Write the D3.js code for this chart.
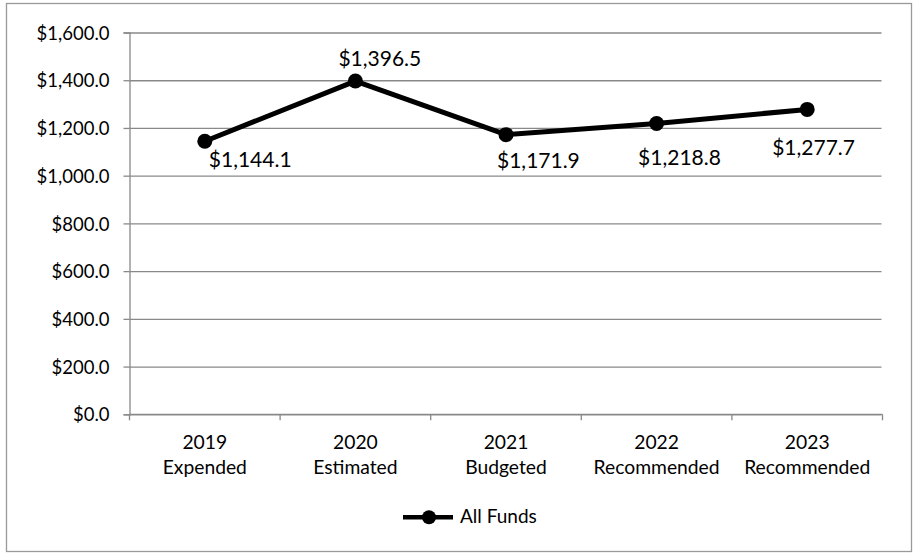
<!DOCTYPE html>
<html>
<head>
<meta charset="utf-8">
<script src="https://cdn.jsdelivr.net/npm/d3@7"></script>
<style>
  body { margin: 0; background: #fff; }
  text { font-family: Lato, "Open Sans", sans-serif; fill: #000; }
</style>
</head>
<body>
<svg id="chart" width="919" height="553"></svg>
<script>
// chart data
const years = ['2019', '2020', '2021', '2022', '2023'];
const stages = ['Expended', 'Estimated', 'Budgeted', 'Recommended', 'Recommended'];
const allFunds = [1144.1, 1396.5, 1171.9, 1218.8, 1277.7];
const yTicks = [0, 200, 400, 600, 800, 1000, 1200, 1400, 1600];
const seriesName = 'All Funds';

// label placement (as the labels sit in the original, relative to each point)
const labelDx = [4, -17, -9, -18.5, -35];
const labelDy = [26, -15.5, 33, 41.5, 45.5];

const svg = d3.select('#chart');
const plotLeft = 129.5;
const plotRight = 882.5;
const plotTop = 32.5;
const plotBottom = 414.3;
const grey = '#898989';

// outer frame
svg.append('rect')
  .attr('x', 6.5).attr('y', 3.5)
  .attr('width', 905).attr('height', 548)
  .attr('fill', '#fff')
  .attr('stroke', '#999')
  .attr('stroke-width', 1.3);

const x = d3.scaleBand()
  .domain(years)
  .range([plotLeft, plotRight])
  .padding(0);

const y = d3.scaleLinear()
  .domain([0, 1600])
  .range([plotBottom, plotTop]);

// gridlines + y axis
const yAxis = svg.append('g')
  .attr('transform', `translate(${plotLeft},0)`)
  .call(d3.axisLeft(y)
    .tickValues(yTicks)
    .tickSize(6)
    .tickFormat(d => '$' + d3.format(',.1f')(d)));
yAxis.select('.domain').attr('stroke', grey).attr('stroke-width', 1.3);
yAxis.selectAll('.tick line').attr('stroke', grey).attr('stroke-width', 1.3);
yAxis.selectAll('.tick').append('line')
  .attr('x1', 0).attr('x2', plotRight - plotLeft - 1)
  .attr('stroke', grey).attr('stroke-width', 1.3);
yAxis.selectAll('.tick text')
  .attr('x', -20)
  .attr('dy', '0.36em')
  .style('font-size', '18.5px')
  .style('font-family', 'Lato, sans-serif')
  .attr('fill', '#000');

// x axis
const xAxis = svg.append('g')
  .attr('transform', `translate(0,${plotBottom})`);
xAxis.append('line')
  .attr('x1', plotLeft).attr('x2', plotRight)
  .attr('stroke', grey).attr('stroke-width', 1.3);
const bounds = years.map(d => x(d)).concat([plotRight]);
xAxis.selectAll('line.bound')
  .data(bounds)
  .enter()
  .append('line')
  .attr('class', 'bound')
  .attr('x1', d => d).attr('x2', d => d)
  .attr('y1', 0).attr('y2', 6)
  .attr('stroke', grey).attr('stroke-width', 1.3);

const catLabel = xAxis.selectAll('text.cat')
  .data(years)
  .enter()
  .append('text')
  .attr('class', 'cat')
  .attr('text-anchor', 'middle')
  .style('font-size', '19.3px');
catLabel.append('tspan')
  .attr('x', d => x(d) + x.bandwidth() / 2)
  .attr('y', 34.7)
  .text(d => d);
catLabel.append('tspan')
  .attr('x', d => x(d) + x.bandwidth() / 2)
  .attr('y', 60)
  .text((d, i) => stages[i]);

// line
const pts = years.map((d, i) => ({ year: d, value: allFunds[i], i }));
const line = d3.line()
  .x(d => x(d.year) + x.bandwidth() / 2)
  .y(d => y(d.value));

svg.append('path')
  .datum(pts)
  .attr('d', line)
  .attr('fill', 'none')
  .attr('stroke', '#000')
  .attr('stroke-width', 5)
  .attr('stroke-linejoin', 'round');

svg.selectAll('circle.pt')
  .data(pts)
  .enter()
  .append('circle')
  .attr('class', 'pt')
  .attr('cx', d => x(d.year) + x.bandwidth() / 2)
  .attr('cy', d => y(d.value))
  .attr('r', 7.5)
  .attr('fill', '#000');

svg.selectAll('text.val')
  .data(pts)
  .enter()
  .append('text')
  .attr('class', 'val')
  .attr('x', d => x(d.year) + x.bandwidth() / 2 + labelDx[d.i])
  .attr('y', d => y(d.value) + labelDy[d.i])
  .style('font-size', '21px')
  .text(d => '$' + d3.format(',.1f')(d.value));

// legend
const lg = svg.append('g').attr('transform', 'translate(403,517.3)');
lg.append('line')
  .attr('x1', 0).attr('x2', 50)
  .attr('stroke', '#000').attr('stroke-width', 4.5);
lg.append('circle')
  .attr('cx', 26).attr('r', 7)
  .attr('fill', '#000');
lg.append('text')
  .attr('x', 57)
  .attr('y', 6)
  .style('font-size', '19px')
  .text(seriesName);
</script>
</body>
</html>
